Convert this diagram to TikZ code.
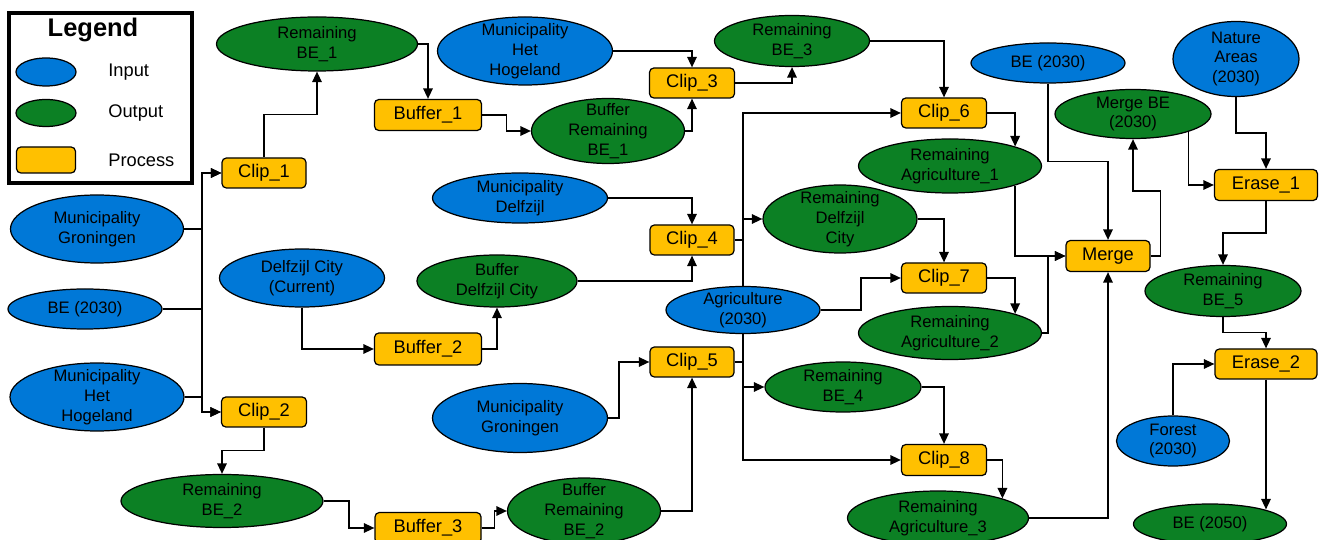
\documentclass[tikz,border=0pt]{standalone}
\usepackage{fontspec}
\setmainfont{Liberation Sans}
\usetikzlibrary{arrows.meta, shapes.geometric, calc}

\definecolor{inblue}{RGB}{0,120,215}
\definecolor{outgreen}{RGB}{12,128,36}
\definecolor{procorange}{RGB}{255,192,0}

\begin{document}
\begin{tikzpicture}[x=0.02cm, y=-0.02cm, >={Triangle[length=2.1mm,width=1.9mm]},
    wh/.style 2 args={minimum width=#1*0.02cm, minimum height=#2*0.02cm},
    inell/.style={ellipse, draw, line width=0.7pt, fill=inblue, inner sep=-12pt, align=center, font=\fontsize{9.45}{11.3}\selectfont},
    outell/.style={inell, fill=outgreen},
    proc/.style={rectangle, draw, line width=0.7pt, rounded corners=2.5pt, fill=procorange, inner sep=0pt, font=\fontsize{10.4}{12}\selectfont},
    flow/.style={->, line width=0.85pt},
    vhv/.style={to path={|- ($(\tikztostart)!.5!(\tikztotarget)$) -| (\tikztotarget)}},
    hvh/.style={to path={-| ($(\tikztostart)!.5!(\tikztotarget)$) |- (\tikztotarget)}}]

    \useasboundingbox (0,0) rectangle (1319,540);

    % legend
    \draw[line width=2pt] (9,13) rectangle (192,183);
    \node[font=\fontsize{14.5}{16}\selectfont\bfseries] (legtitle) at (93,30) {Legend};
    \node[inell, wh={60}{28}] (keyin) at (46,72) {};
    \node[outell, wh={60}{27}] (keyout) at (46,113) {};
    \node[proc, wh={59}{26}] (keyproc) at (46,160) {};
    \node[anchor=west, inner sep=0pt, font=\fontsize{10.4}{12}\selectfont] (keyintext) at (108,72) {Input};
    \node[anchor=west, inner sep=0pt, font=\fontsize{10.4}{12}\selectfont] (keyouttext) at (108,113) {Output};
    \node[anchor=west, inner sep=0pt, font=\fontsize{10.4}{12}\selectfont] (keyproctext) at (108,160) {Process};

    % inputs
    \node[inell, wh={173}{68}] (mgL) at (97,229) {Municipality\\Groningen};
    \node[inell, wh={154}{40}] (beL) at (85,309) {BE (2030)};
    \node[inell, wh={174}{68}] (mhL) at (97,397) {Municipality\\Het\\Hogeland};
    \node[inell, wh={165}{58}] (dcc) at (302,278) {Delfzijl City\\(Current)};
    \node[inell, wh={175}{68}] (mhT) at (525,51) {Municipality\\Het\\Hogeland};
    \node[inell, wh={175}{50}] (mdT) at (520,198) {Municipality\\Delfzijl};
    \node[inell, wh={175}{69}] (mgM) at (520,418) {Municipality\\Groningen};
    \node[inell, wh={154}{47}] (agri) at (743,310) {Agriculture\\(2030)};
    \node[inell, wh={154}{40}] (beT) at (1048,63) {BE (2030)};
    \node[inell, wh={126}{75}] (nat) at (1236,59) {Nature\\Areas\\(2030)};
    \node[inell, wh={113}{50}] (forest) at (1173,441) {Forest\\(2030)};

    % processes
    \node[proc, wh={84}{30}] (clip1) at (264,173) {Clip\_1};
    \node[proc, wh={85}{30}] (clip2) at (264,412) {Clip\_2};
    \node[proc, wh={85}{30}] (clip3) at (692,83) {Clip\_3};
    \node[proc, wh={84}{30}] (clip4) at (692,240) {Clip\_4};
    \node[proc, wh={84}{30}] (clip5) at (692,362) {Clip\_5};
    \node[proc, wh={85}{30}] (clip6) at (944,113) {Clip\_6};
    \node[proc, wh={85}{30}] (clip7) at (944,278) {Clip\_7};
    \node[proc, wh={85}{31}] (clip8) at (944,460) {Clip\_8};
    \node[proc, wh={107}{31}] (buf1) at (428,115) {Buffer\_1};
    \node[proc, wh={107}{32}] (buf2) at (428,349) {Buffer\_2};
    \node[proc, wh={106}{31}] (buf3) at (428,528) {Buffer\_3};
    \node[proc, wh={84}{31}] (merge) at (1108,256) {Merge};
    \node[proc, wh={103}{31}] (erase1) at (1266,185) {Erase\_1};
    \node[proc, wh={102}{30}] (erase2) at (1266,364) {Erase\_2};

    % outputs
    \node[outell, wh={201}{54}] (rb1) at (317,44) {Remaining\\BE\_1};
    \node[outell, wh={202}{53}] (rb2) at (222,501) {Remaining\\BE\_2};
    \node[outell, wh={153}{65}] (brb1) at (608,131) {Buffer\\Remaining\\BE\_1};
    \node[outell, wh={153}{66}] (brb2) at (584,511) {Buffer\\Remaining\\BE\_2};
    \node[outell, wh={160}{52}] (bdc) at (497,281) {Buffer\\Delfzijl City};
    \node[outell, wh={155}{51}] (rb3) at (792,41) {Remaining\\BE\_3};
    \node[outell, wh={154}{68}] (rdc) at (840,219) {Remaining\\Delfzijl\\City};
    \node[outell, wh={156}{50}] (rb4) at (843,387) {Remaining\\BE\_4};
    \node[outell, wh={183}{54}] (ra1) at (950,166) {Remaining\\Agriculture\_1};
    \node[outell, wh={183}{53}] (ra2) at (950,333) {Remaining\\Agriculture\_2};
    \node[outell, wh={181}{54}] (ra3) at (938,518) {Remaining\\Agriculture\_3};
    \node[outell, wh={156}{49}] (mbe) at (1133,114) {Merge BE\\(2030)};
    \node[outell, wh={156}{51}] (rb5) at (1223,291) {Remaining\\BE\_5};
    \node[outell, wh={153}{40}] (be50) at (1210,524) {BE (2050)};

    % connectors
    \coordinate (busL) at (202,0);
    \draw[flow] (mgL.east) -- (mgL.east -| busL) |- (clip1.west);
    \draw[flow] (beL.east) -- (beL.east -| busL) |- (clip1.west);
    \draw[flow] (beL.east) -- (beL.east -| busL) |- (clip2.west);
    \draw[flow] (mhL.east) -- (mhL.east -| busL) |- (clip2.west);

    \draw[flow] (clip1.north) to[vhv] (rb1.south);
    \draw[flow] (rb1.east) -| (buf1.north);
    \draw[flow] (buf1.east) to[hvh] (brb1.west);
    \draw[flow] (brb1.east) -| (clip3.south);
    \draw[flow] (mhT.east) -| (clip3.north);
    \draw[flow] (clip3.east) -| (rb3.south);
    \draw[flow] (rb3.east) -| (clip6.north);

    \draw[flow] (dcc.south) |- (buf2.west);
    \draw[flow] (buf2.east) -| (bdc.south);
    \draw[flow] (mdT.east) -| (clip4.north);
    \draw[flow] (bdc.east) -| (clip4.south);
    \draw[flow] (clip4.east) -- (clip4.east -| agri.north) |- (rdc.west);
    \draw[flow] (agri.north) |- (clip6.west);
    \draw[flow] (agri.south) |- (clip8.west);
    \draw[flow] (agri.east) to[hvh] (clip7.west);
    \draw[flow] (rdc.east) -| (clip7.north);

    \draw[flow] (clip2.south) to[vhv] (rb2.north);
    \draw[flow] (rb2.east) to[hvh] (buf3.west);
    \draw[flow] (buf3.east) to[hvh] (brb2.west);
    \draw[flow] (brb2.east) -| (clip5.south);
    \draw[flow] (mgM.east) -- ++(11,0) |- (clip5.west);
    \draw[flow] (clip5.east) -- (clip5.east -| agri.south) |- (rb4.west);
    \draw[flow] (rb4.east) -| (clip8.north);

    \draw[flow] (clip6.east) -| (ra1.north east);
    \draw[flow] (clip7.east) -| (ra2.north east);
    \draw[flow] (clip8.east) -| (ra3.north east);
    \draw[flow] (ra1.south east) |- (merge.west);
    \draw[flow] (ra2.east) -- (ra2.east -| beT.south) |- (merge.west);
    \draw[flow] (ra3.east) -| (merge.south);
    \draw[flow] (beT.south) to[vhv] (merge.north);
    \draw[flow] (merge.east) -- ++(10,0) |- ($(mbe.south)+(0,52)$) -- (mbe.south);

    \draw[flow] (mbe.south east) |- (erase1.west);
    \draw[flow] (nat.south) to[vhv] (erase1.north);
    \draw[flow] (erase1.south) to[vhv] (rb5.north);
    \draw[flow] (rb5.south) to[vhv] (erase2.north);
    \draw[flow] (forest.north) |- (erase2.west);
    \draw[flow] (erase2.south) -- (erase2.south |- be50.north east);

\end{tikzpicture}
\end{document}
